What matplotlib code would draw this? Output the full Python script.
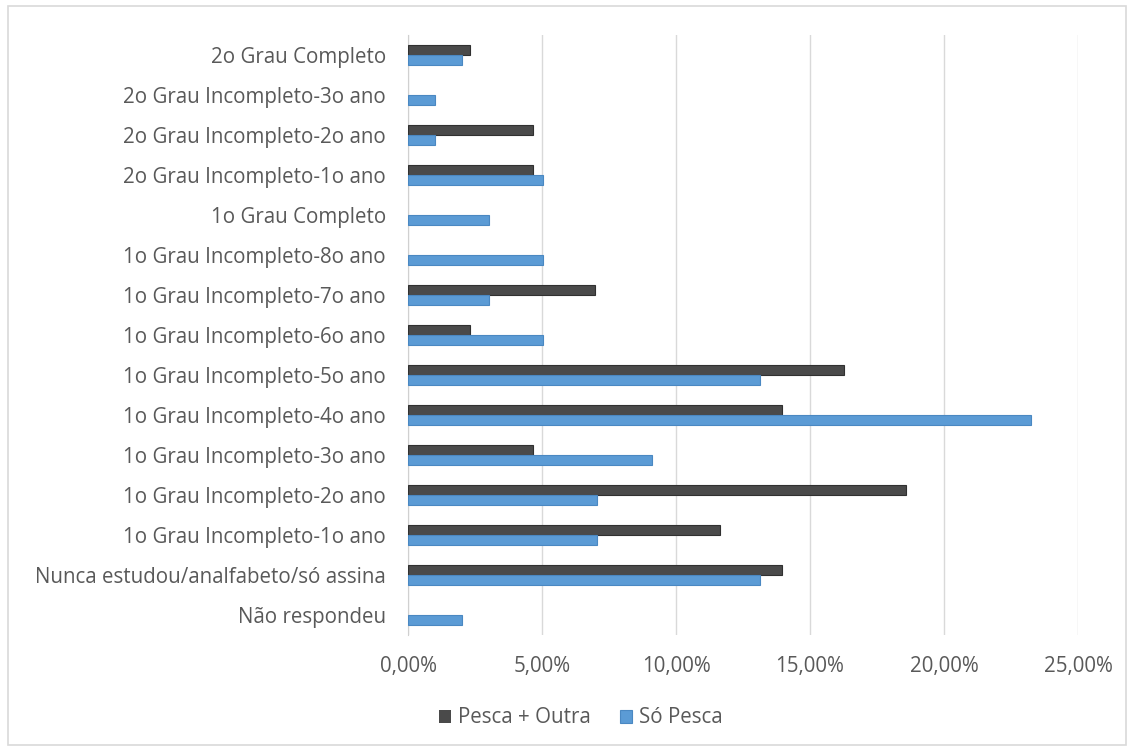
import matplotlib.pyplot as plt
from matplotlib.patches import Rectangle
from matplotlib.ticker import FuncFormatter
import numpy as np

plt.rcParams['font.family'] = ['Open Sans', 'DejaVu Sans']

# education levels, bottom to top
categorias = [
    'Não respondeu',
    'Nunca estudou/analfabeto/só assina',
    '1o Grau Incompleto-1o ano',
    '1o Grau Incompleto-2o ano',
    '1o Grau Incompleto-3o ano',
    '1o Grau Incompleto-4o ano',
    '1o Grau Incompleto-5o ano',
    '1o Grau Incompleto-6o ano',
    '1o Grau Incompleto-7o ano',
    '1o Grau Incompleto-8o ano',
    '1o Grau Completo',
    '2o Grau Incompleto-1o ano',
    '2o Grau Incompleto-2o ano',
    '2o Grau Incompleto-3o ano',
    '2o Grau Completo',
]
pesca_outra = [0.0, 13.95, 11.63, 18.60, 4.65, 13.95, 16.28, 2.33, 6.98,
               0.0, 0.0, 4.65, 4.65, 0.0, 2.33]
so_pesca = [2.02, 13.13, 7.07, 7.07, 9.09, 23.23, 13.13, 5.05, 3.03,
            5.05, 3.03, 5.05, 1.01, 1.01, 2.02]

cor_outra = '#4a4a4a'
cor_pesca = '#5b9bd5'
cor_texto = '#595959'
fs = 14.8

fig = plt.figure(figsize=(11.34, 7.51), dpi=100)
fig.patches.append(Rectangle((0.007, 0.008), 0.986, 0.984, transform=fig.transFigure,
                             fill=False, edgecolor='#d9d9d9', linewidth=1.2))
ax = fig.add_axes([0.3598, 0.1545, 0.5908, 0.7989])

y = np.arange(len(categorias))
h = 0.24


def bordas(vals):
    # no outline on empty bars
    return [0.8 if v > 0 else 0 for v in vals]


ax.barh(y + h / 2, pesca_outra, height=h, color=cor_outra, edgecolor='#303030',
        linewidth=bordas(pesca_outra), label='Pesca + Outra', zorder=3)
ax.barh(y - h / 2, so_pesca, height=h, color=cor_pesca, edgecolor='#4a88c2',
        linewidth=bordas(so_pesca), label='Só Pesca', zorder=3)

ax.set_xlim(0, 25)
ax.set_ylim(-0.5, len(categorias) - 0.5)
ax.set_xticks(np.arange(0, 26, 5))
ax.xaxis.set_major_formatter(FuncFormatter(lambda v, p: f'{v:.2f}%'.replace('.', ',')))
ax.set_yticks(y)
ax.set_yticklabels(categorias)

ax.grid(axis='x', color='#d9d9d9', linewidth=1, zorder=0)
for s in ['top', 'right', 'bottom']:
    ax.spines[s].set_visible(False)
ax.spines['left'].set_color('#d0d0d0')
ax.tick_params(axis='both', length=0, labelsize=fs, colors=cor_texto)
ax.tick_params(axis='y', pad=16)
ax.tick_params(axis='x', pad=15)

leg = fig.legend(loc='center', bbox_to_anchor=(0.512, 0.044), ncol=2, frameon=False,
                 fontsize=fs, handlelength=0.6, handleheight=0.6, columnspacing=1.4,
                 handletextpad=0.35)
for t in leg.get_texts():
    t.set_color(cor_texto)

fig.savefig('out.png', dpi=100)
